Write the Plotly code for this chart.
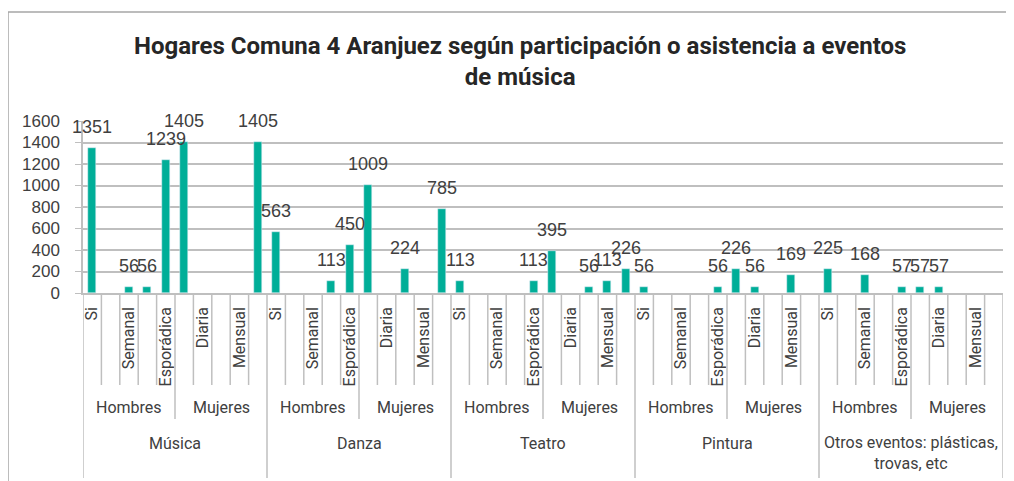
import plotly.graph_objects as go

# ---- data ----
events = ["Música", "Danza", "Teatro", "Pintura", "Otros eventos: plásticas,<br>trovas, etc"]
sexes = ["Hombres", "Mujeres"]
freqs = ["Si", "Diaria", "Semanal", "Mensual", "Esporádica"]

musica_h = [1351, None, 56, 56, 1239]
musica_m = [1405, None, None, None, 1405]
danza_h = [563, None, None, 113, 450]
danza_m = [1009, None, 224, None, 785]
teatro_h = [113, None, None, None, 113]
teatro_m = [395, None, 56, 113, 226]
pintura_h = [56, None, None, None, 56]
pintura_m = [226, 56, None, 169, None]
otros_h = [225, None, 168, None, 57]
otros_m = [57, 57, None, None, None]

series = [musica_h, musica_m, danza_h, danza_m, teatro_h, teatro_m,
          pintura_h, pintura_m, otros_h, otros_m]

values = [v for s in series for v in s]
n = len(values)
xs = list(range(n))
labels_full = [freqs[i % len(freqs)] for i in range(n)]
# Excel skipped every other category label
tickvals = [i for i in range(n) if i % 2 == 0]
ticktext = [labels_full[i] for i in tickvals]

BAR = "#00AE98"
GRID = "#BFBFBF"
TXT = "#404040"
AXFONT = "Roboto"

# page body has an 8px default margin; size the figure to fit the window
OFF = 8
W = 1014 - OFF
H = 481 - OFF
L = 83 - OFF
T = 121 - OFF
PLOT_BOTTOM = 293 - OFF
B = H - PLOT_BOTTOM
R = W - (1003 - OFF)
PH = H - T - B
PW = W - L - R


def py(pix):
    """window pixel row -> paper y"""
    return (PLOT_BOTTOM - (pix - OFF)) / PH


def px(pix):
    """window pixel column -> paper x"""
    return ((pix - OFF) - L) / PW


fig = go.Figure()
fig.add_trace(go.Bar(x=xs, y=values, marker_color=BAR, width=0.44,
                     hoverinfo="x+y", showlegend=False))

annotations = []
for i, v in enumerate(values):
    if v is not None:
        annotations.append(dict(x=i, y=v, xref="x", yref="y", text=str(v),
                                showarrow=False, yanchor="middle", yshift=21,
                                font=dict(family="Liberation Sans", size=18, color=TXT)))

nf = len(freqs)
ns = len(sexes)
for e, ev in enumerate(events):
    base = e * nf * ns
    for s, sx in enumerate(sexes):
        c = base + s * nf + (nf - 1) / 2
        annotations.append(dict(x=c, y=py(407), xref="x", yref="paper", text=sx,
                                showarrow=False, yanchor="middle",
                                font=dict(family=AXFONT, size=16, color=TXT)))
    c = base + (nf * ns - 1) / 2
    two = "<br>" in ev
    annotations.append(dict(x=c, y=py(453 if two else 443), xref="x", yref="paper",
                            text=ev, showarrow=False, yanchor="middle",
                            font=dict(family=AXFONT, size=16, color=TXT)))

annotations.append(dict(x=px(520), y=py(61), xref="paper", yref="paper",
                        text="<b>Hogares Comuna 4 Aranjuez según participación o asistencia a eventos<br>de música</b>",
                        showarrow=False, yanchor="middle", xanchor="center",
                        font=dict(family=AXFONT, size=24, color="#262626")))

shapes = []
for i in range(n + 1):
    xb = i - 0.5
    if i % (nf * ns) == 0:
        y0 = py(478)
    elif i % nf == 0:
        y0 = py(419)
    else:
        y0 = py(385)
    shapes.append(dict(type="line", xref="x", yref="paper", x0=xb, x1=xb,
                       y0=0, y1=y0, line=dict(color=GRID, width=1.5)))

# outer chart border
shapes.append(dict(type="rect", xref="paper", yref="paper",
                   x0=px(8), x1=1.3, y0=py(560), y1=py(12),
                   line=dict(color="#A6A6A6", width=1.5)))

fig.update_layout(
    width=W, height=H,
    margin=dict(l=L, r=R, t=T, b=B, pad=0, autoexpand=False),
    paper_bgcolor="white", plot_bgcolor="white",
    annotations=annotations, shapes=shapes,
    bargap=0,
)
fig.update_xaxes(range=[-0.5, n - 0.5], tickmode="array", tickvals=tickvals,
                 ticktext=ticktext, tickangle=-90, ticks="", showline=True,
                 linecolor=GRID, linewidth=1.5, showgrid=False, zeroline=False,
                 tickfont=dict(family=AXFONT, size=16, color=TXT),
                 ticklabelstandoff=6, automargin=False)
fig.update_yaxes(range=[0, 1600], dtick=200, showgrid=True, gridcolor=GRID,
                 gridwidth=1.5, showline=True, linecolor=GRID, linewidth=1.5,
                 ticks="outside", ticklen=6, tickcolor=GRID, zeroline=False,
                 tickfont=dict(family="Liberation Sans", size=17, color=TXT),
                 ticklabelstandoff=12, automargin=False)

fig.write_html("out.html")
